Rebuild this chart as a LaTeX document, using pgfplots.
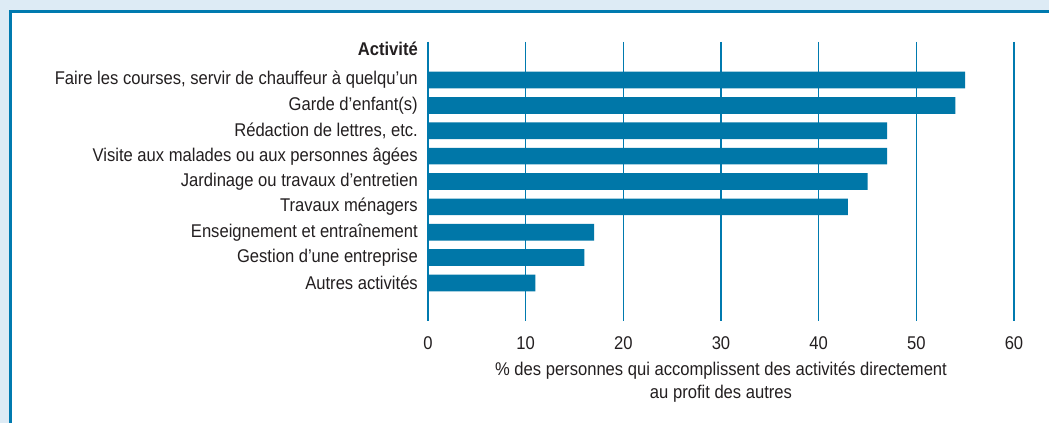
\documentclass[border=0pt]{standalone}
\usepackage{fontspec}
\setmainfont{Liberation Sans}[FakeStretch=0.9]
\usepackage{pgfplots}
\pgfplotsset{compat=1.18}
\definecolor{barblue}{RGB}{0,119,168}
\definecolor{gridblue}{RGB}{0,122,175}
\definecolor{bgblue}{RGB}{221,235,245}
\definecolor{txt}{RGB}{35,31,32}
\begin{document}
\begin{tikzpicture}
\useasboundingbox (0,0) rectangle (1049bp,423bp);
\fill[bgblue] (0,0) rectangle (1049bp,423bp);
\fill[white] (10bp,-5bp) rectangle (1060bp,411bp);
\draw[gridblue, line width=3bp] (10bp,-5bp) -- (10bp,411bp) -- (1060bp,411bp);
\begin{axis}[
  at={(428bp,102bp)}, anchor=south west,
  width=586bp, height=279bp, scale only axis,
  xmin=0, xmax=60, ymin=-1.5, ymax=9.5, y dir=reverse,
  axis x line=bottom, axis y line=left,
  axis line style={-},
  x axis line style={draw=none},
  y axis line style={gridblue, line width=2.5bp},
  xtick={0,10,20,30,40,50,60},
  xticklabels={0,10,20,30,40,50,60},
  ytick={-1.25,0,1,2,3,4,5,6,7,8},
  yticklabels={{\bfseries Activité},
    {Faire les courses, servir de chauffeur à quelqu’un},
    {Garde d’enfant(s)},
    {Rédaction de lettres, etc.},
    {Visite aux malades ou aux personnes âgées},
    {Jardinage ou travaux d’entretien},
    {Travaux ménagers},
    {Enseignement et entraînement},
    {Gestion d’une entreprise},
    {Autres activités}},
  major tick length=0pt,
  tick style={draw=none},
  xmajorgrids, ymajorgrids=false,
  grid style={gridblue, line width=1.5bp},
  /pgf/number format/assume math mode=true,
  ticklabel style={font=\fontsize{18.5}{22}\selectfont, text=txt, inner sep=0pt},
  yticklabel style={anchor=east, xshift=-10bp},
  xticklabel style={anchor=north, yshift=-15bp},
  xlabel={\% des personnes qui accomplissent des activités directement\\au profit des autres},
  xlabel style={align=center, font=\fontsize{18.5}{23}\selectfont, text=txt, inner sep=0pt, at={(axis description cs:0.5,0)}, anchor=north, yshift=-41bp},
  clip=false,
]
\addplot[xbar, bar width=16.7bp, fill=barblue, draw=none] coordinates {
  (55,0) (54,1) (47,2) (47,3) (45,4) (43,5) (17,6) (16,7) (11,8)
};
\end{axis}
\end{tikzpicture}
\end{document}
